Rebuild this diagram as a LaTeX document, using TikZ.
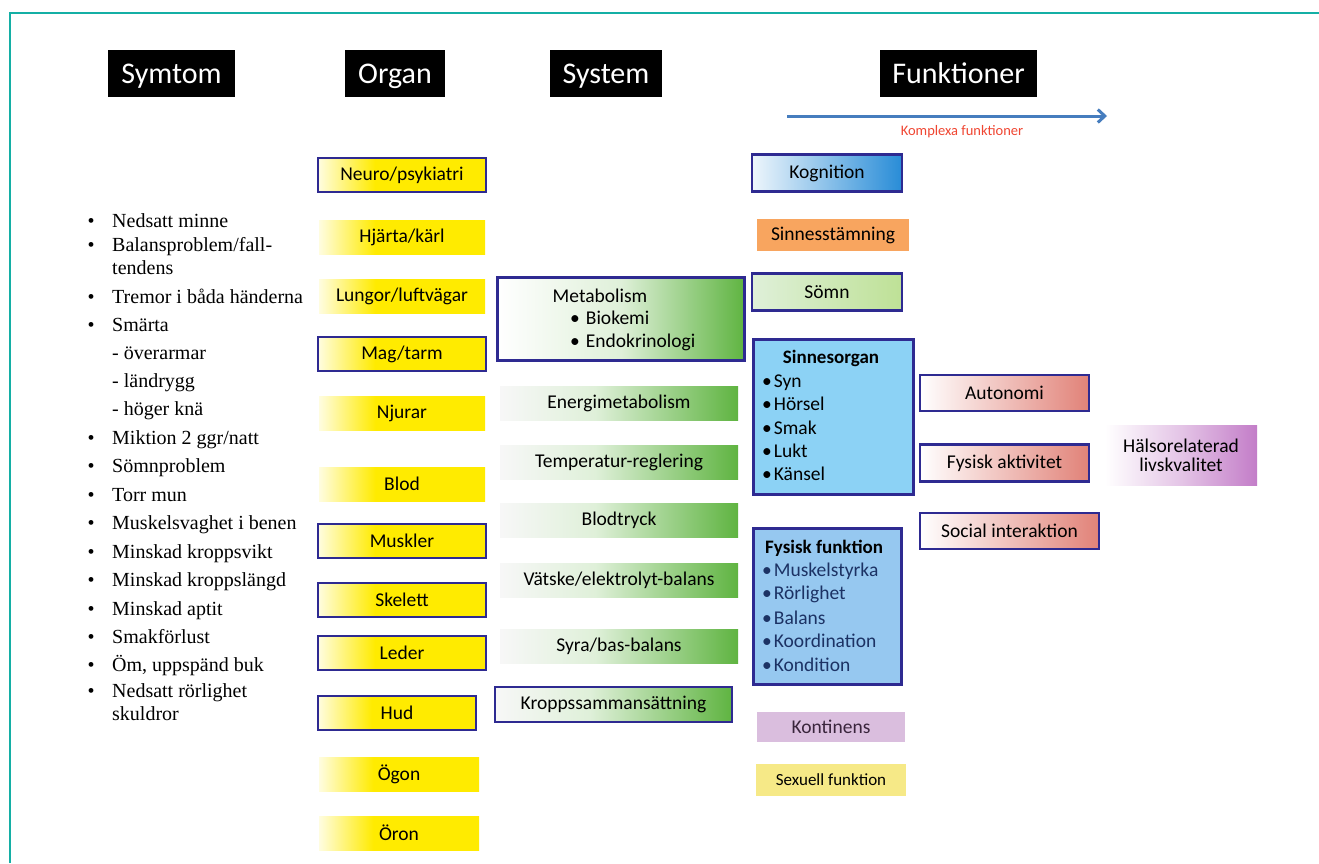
\documentclass[tikz,border=0pt]{standalone}
\usepackage{fontspec}
\setmainfont{Liberation Serif}
\newfontfamily\carl{Carlito}
\usetikzlibrary{arrows.meta}
\definecolor{bordercol}{RGB}{46,42,145}
\definecolor{yel}{RGB}{255,235,0}
\definecolor{grn}{RGB}{95,180,65}
\definecolor{blu}{RGB}{40,140,215}
\definecolor{orangec}{RGB}{248,165,95}
\definecolor{somn}{RGB}{190,225,150}
\definecolor{sinne}{RGB}{140,210,245}
\definecolor{fysf}{RGB}{150,200,240}
\definecolor{salmon}{RGB}{225,130,120}
\definecolor{purp}{RGB}{195,125,200}
\definecolor{kont}{RGB}{218,190,222}
\definecolor{sexc}{RGB}{246,233,135}
\definecolor{tealc}{RGB}{20,175,165}
\definecolor{arrowblue}{RGB}{70,125,190}
\definecolor{redc}{RGB}{240,70,50}
\definecolor{navy}{RGB}{28,50,100}
\colorlet{yellight}{yel!12!white}
\colorlet{grnlight}{grn!20!white}
\colorlet{whitegray}{white!94!gray}
\colorlet{purmid}{purp!45!white}
\colorlet{blulight}{blu!8!white}
\pgfdeclarehorizontalshading{yelfade}{100bp}{color(0bp)=(yellight); color(25bp)=(yellight); color(42bp)=(yel); color(100bp)=(yel)}
\pgfdeclarehorizontalshading{grnfade}{100bp}{color(0bp)=(whitegray); color(25bp)=(whitegray); color(45bp)=(grnlight); color(75bp)=(grn); color(100bp)=(grn)}
\pgfdeclarehorizontalshading{metfade}{100bp}{color(0bp)=(white); color(25bp)=(white); color(50bp)=(grnlight); color(75bp)=(grn); color(100bp)=(grn)}
\pgfdeclarehorizontalshading{blufade}{100bp}{color(0bp)=(blulight); color(25bp)=(blulight); color(75bp)=(blu); color(100bp)=(blu)}
\pgfdeclarehorizontalshading{salfade}{100bp}{color(0bp)=(white); color(25bp)=(white); color(75bp)=(salmon); color(100bp)=(salmon)}
\pgfdeclarehorizontalshading{purfade}{100bp}{color(0bp)=(white); color(25bp)=(white); color(50bp)=(purmid); color(75bp)=(purp); color(100bp)=(purp)}
\pgfdeclarehorizontalshading{somnfade}{100bp}{color(0bp)=(white); color(25bp)=(grnlight); color(75bp)=(somn); color(100bp)=(somn)}
\tikzset{
  lbl/.style={font=\carl\fontsize{19.5}{22}\selectfont, text=black, inner sep=0pt, align=center},
  bord/.style={draw=bordercol, line width=2.8pt},
  box/.style={lbl, minimum width=#1, minimum height=34},
  hdr/.style={fill=black, text=white, font=\carl\fontsize{30}{32}\selectfont, minimum height=47, inner sep=0pt, text depth=0pt},
  sym/.style={font=\fontsize{20}{23}\selectfont, anchor=base west, inner sep=0pt},
  bul/.style={font=\fontsize{20}{23}\selectfont, anchor=base, inner sep=0pt},
  itm/.style={font=\carl\fontsize{19.5}{22}\selectfont, anchor=base west, inner sep=0pt},
  ttl/.style={font=\carl\bfseries\fontsize{19}{22}\selectfont, inner sep=0pt},
}
\begin{document}
\begin{tikzpicture}[x=1pt,y=-1pt]
\useasboundingbox (0,0) rectangle (1319,863);
\fill[white] (0,0) rectangle (1319,863);
% frame
\coordinate (f1) at (10,863); \coordinate (f2) at (10,13); \coordinate (f3) at (1319,13);
\draw[tealc, line width=2.5pt] (f1) -- (f2) -- (f3);
% headers
\node[hdr, minimum width=127] (hsym) at (171.5,73.5) {Symtom};
\node[hdr, minimum width=100] (horg) at (395,73.5) {Organ};
\node[hdr, minimum width=112] (hsys) at (606,73.5) {System};
\node[hdr, minimum width=157] (hfun) at (958.5,73.5) {Funktioner};
% arrow
\coordinate (a1) at (787,116); \coordinate (a2) at (1107,116);
\draw[arrowblue, line width=3pt, -{Straight Barb[length=7pt,width=13pt]}] (a1) -- (a2);
\node[font=\carl\fontsize{14.5}{16}\selectfont, text=redc, inner sep=0pt] (kompl) at (962,132) {Komplexa funktioner};
% symptoms
\foreach \y/\t/\b [count=\i] in {
 227/{Nedsatt minne}/1, 251/{Balansproblem/fall-}/1, 274/{tendens}/0, 303/{Tremor i båda händerna}/1,
 331/{Smärta}/1, 359/{- överarmar}/0, 387/{- ländrygg}/0, 415/{- höger knä}/0,
 444/{Miktion 2 ggr/natt}/1, 472/{Sömnproblem}/1, 501/{Torr mun}/1, 529/{Muskelsvaghet i benen}/1,
 558/{Minskad kroppsvikt}/1, 586/{Minskad kroppslängd}/1, 615/{Minskad aptit}/1, 643/{Smakförlust}/1,
 671/{Öm, uppspänd buk}/1, 697/{Nedsatt rörlighet}/1, 720/{skuldror}/0}{
  \node[sym] (s\i) at (112,\y) {\t};
  \ifnum\b=1 \node[bul] (b\i) at (91,\y) {•}; \fi
}
% organs
\node[box=168, bord, shading=yelfade] (neuro) at (402,175) {Neuro/psykiatri};
\node[box=166, shading=yelfade] (hjarta) at (402,237) {Hjärta/kärl};
\node[box=166, shading=yelfade] (lungor) at (402,296) {Lungor/luftvägar};
\node[box=168, bord, shading=yelfade] (mag) at (402,354) {Mag/tarm};
\node[box=166, shading=yelfade] (njurar) at (402,413) {Njurar};
\node[box=166, shading=yelfade] (blod) at (402,484) {Blod};
\node[box=168, bord, shading=yelfade] (muskler) at (402,541) {Muskler};
\node[box=168, bord, shading=yelfade] (skelett) at (402,600) {Skelett};
\node[box=168, bord, shading=yelfade] (leder) at (402,653) {Leder};
\node[box=158, bord, shading=yelfade] (hud) at (397,713) {Hud};
\node[box=160, shading=yelfade] (ogon) at (399,774) {Ögon};
\node[box=160, shading=yelfade] (oron) at (399,833) {Öron};
% system
\node[bord, shading=metfade, minimum width=247, minimum height=83, inner sep=0pt, anchor=north west] (metab) at (496,276) {};
\node[lbl] (metabt) at (600,296) {Metabolism};
\node[itm] (bio) at (570,324) {•\hspace{6pt}Biokemi};
\node[itm] (endo) at (570,347) {•\hspace{6pt}Endokrinologi};
\node[box=238, shading=grnfade] (energi) at (619,403) {Energimetabolism};
\node[box=238, shading=grnfade] (temp) at (619,462) {Temperatur-reglering};
\node[box=238, shading=grnfade] (blodtr) at (619,520) {Blodtryck};
\node[box=238, shading=grnfade] (vatske) at (619,580) {Vätske/elektrolyt-balans};
\node[box=238, shading=grnfade] (syra) at (619,646) {Syra/bas-balans};
\node[box=237, bord, minimum height=35, shading=grnfade] (kropp) at (613.5,704.5) {Kroppssammansättning};
% functions
\node[box=150, bord, minimum height=37, shading=blufade] (kogn) at (827,173) {Kognition};
\node[box=152, minimum height=32, fill=orangec] (sinst) at (833,235) {Sinnesstämning};
\node[box=150, bord, minimum height=37, shading=somnfade] (somnn) at (827,292) {Sömn};
\node[bord, fill=sinne, minimum width=160, minimum height=155, inner sep=0pt, anchor=north west] (sinn) at (752,338) {};
\node[ttl] (sinnt) at (831,358) {Sinnesorgan};
\foreach \y/\t [count=\i] in {387/Syn, 410/Hörsel, 434/Smak, 457/Lukt, 480/Känsel}{
  \node[itm] (si\i) at (762,\y) {•\hspace{2pt}\t};
}
\node[bord, fill=fysf, minimum width=148, minimum height=156, inner sep=0pt, anchor=north west] (fys) at (752,527) {};
\node[ttl, anchor=base west] (fyst) at (765,553) {Fysisk funktion};
\foreach \y/\t [count=\i] in {576/Muskelstyrka, 599/Rörlighet, 624/Balans, 647/Koordination, 671/Kondition}{
  \node[itm, text=navy] (fy\i) at (762,\y) {•\hspace{2pt}\t};
}
\node[box=148, minimum height=30, fill=kont, text=black!70!purp] (kontin) at (831,727) {Kontinens};
\node[box=150, minimum height=32, fill=sexc, font=\carl\fontsize{17}{19}\selectfont] (sexu) at (831,780) {Sexuell funktion};
% right column
\node[box=169, bord, minimum height=36, shading=salfade] (auto) at (1004.5,393) {Autonomi};
\node[box=169, bord, minimum height=37, shading=salfade] (fysakt) at (1004.5,463) {Fysisk aktivitet};
\node[box=179, bord, minimum height=36, shading=salfade] (social) at (1009.5,531) {Social interaktion};
\node[box=152, minimum height=60, shading=purfade] (halsa) at (1181,455) {Hälsorelaterad\\[-3pt]livskvalitet};
\end{tikzpicture}
\end{document}
